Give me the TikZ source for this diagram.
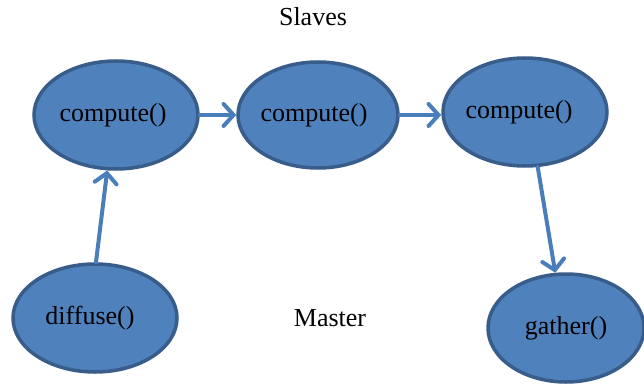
\documentclass[tikz,border=0pt]{standalone}
\usepackage{fontspec}
\setmainfont{Liberation Serif}
\usetikzlibrary{shapes.geometric,arrows.meta}
\definecolor{nodefill}{HTML}{4F81BD}
\definecolor{nodeline}{HTML}{385D8A}
\definecolor{arrowcol}{HTML}{4A7EBB}
\tikzset{
  proc/.style={ellipse, draw=nodeline, fill=nodefill, line width=3.5pt, inner sep=0pt,
    minimum width=164pt, minimum height=108pt, font=\fontsize{26}{30}\selectfont},
  flow/.style={draw=arrowcol, line width=4pt, line cap=round,
    -{Straight Barb[length=10pt,width=22pt,line cap=round]}},
  plain/.style={font=\fontsize{26}{30}\selectfont}
}
\begin{document}
\begin{tikzpicture}[x=1pt,y=-1pt]
\useasboundingbox (0,0) rectangle (644,385);
\node[proc] (c1) at (116,115) {\hspace*{-6pt}\raisebox{-3pt}{compute()}};
\node[proc, minimum width=160pt, minimum height=106pt] (c2) at (318,115) {\hspace*{-8pt}\raisebox{-1pt}{compute()}};
\node[proc] (c3) at (525,112) {\hspace*{-12pt}compute()};
\node[proc, minimum width=156pt] (g) at (566,328) {\raisebox{2pt}{gather()}};
\node[proc] (d) at (95,318) {\hspace*{-10pt}\raisebox{-3pt}{diffuse()}};
\node[plain] (slaves) at (313,17) {Slaves};
\node[plain] (master) at (330,318) {Master};
\draw[flow] (c1.east) -- (c2.west);
\draw[flow] (c2.east) -- (c2.east -| c3.west);
\draw[flow] (c3.-77) -- (g.101);
\draw[flow] (d.89) -- (c1.261);
\end{tikzpicture}
\end{document}
